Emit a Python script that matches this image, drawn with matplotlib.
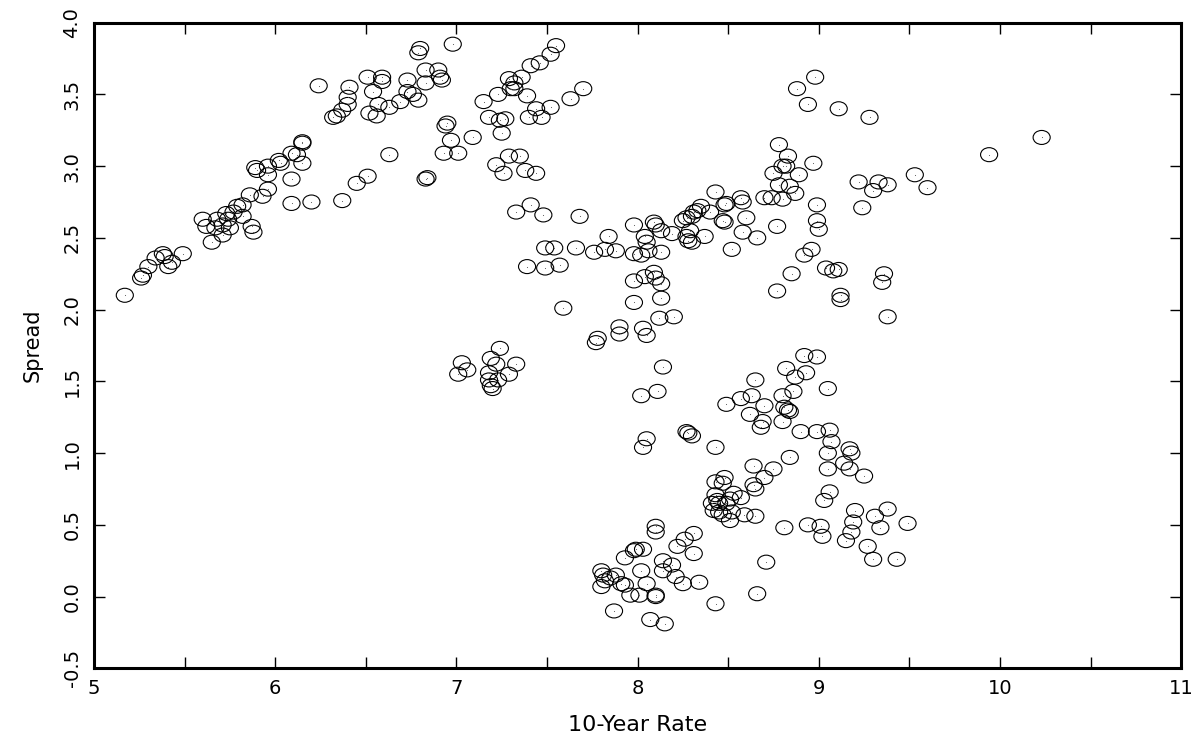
import numpy as np
import matplotlib.pyplot as plt
from matplotlib.path import Path
from matplotlib.transforms import Affine2D

# 10-year rate vs spread
rate = [
    5.17, 5.26, 5.27, 5.30, 5.34, 5.38, 5.39, 5.41, 5.43, 5.49,
    5.65, 5.62, 5.60, 5.67, 5.68, 5.71, 5.71, 5.73, 5.74, 5.75,
    5.77, 5.79, 5.82, 5.82, 5.87, 5.88, 5.86, 5.93, 5.96, 5.89,
    5.90, 5.96, 5.96, 6.02, 6.03, 6.09, 6.12, 6.15, 6.15, 6.15,
    6.09, 6.09, 6.20, 6.37, 6.45, 6.51, 6.63, 6.83, 6.84, 6.93,
    7.01, 6.94, 6.95, 6.97, 6.24, 6.32, 6.34, 6.37, 6.40, 6.40,
    6.41, 6.51, 6.52, 6.54, 6.57, 6.56, 6.59, 6.59, 6.63, 6.69,
    6.73, 6.73, 6.76, 6.79, 6.83, 6.83, 6.90, 6.91, 6.92, 6.80,
    6.79, 6.98,
    # 7 to 9, upper part
    7.55, 7.52, 7.46, 7.41, 7.36, 7.29, 7.32, 7.30, 7.32, 7.23,
    7.15, 7.39, 7.44, 7.52, 7.40, 7.47, 7.18, 7.24, 7.27, 7.25,
    7.09, 7.63, 7.70, 7.29, 7.35, 7.22, 7.26, 7.38, 7.44, 7.33,
    7.41, 7.48, 7.68, 7.49, 7.54, 7.66, 7.39, 7.49, 7.57, 7.59,
    7.76, 7.82, 7.84, 7.88, 7.98, 7.98, 8.02, 8.09, 8.10, 8.13,
    8.04, 8.05, 8.06, 8.13, 8.19, 8.25, 8.27, 8.31, 8.33, 8.35,
    8.30, 8.29, 8.27, 8.28, 8.30, 8.37, 8.40, 8.43, 8.48, 8.49,
    8.47, 8.48, 8.57, 8.58, 8.60, 8.58, 8.66, 8.52, 8.70, 8.74,
    8.80, 8.78, 8.84, 8.87, 8.75, 8.80, 8.82, 8.89, 8.83, 8.78,
    8.97, 8.77, 8.88, 8.98, 8.94, 8.99, 8.99, 9.00, 8.96, 8.92,
    8.85, 8.77, 7.98, 8.04, 8.09, 8.10, 8.13, 8.13, 7.98, 8.12,
    8.20, 7.90, 7.90, 8.03, 8.05, 7.78, 7.77,
    # lower middle
    8.14, 8.02, 8.11, 8.05, 8.03, 8.27, 8.28, 8.30, 8.43, 8.49,
    8.57, 8.63, 8.65, 8.70, 8.62, 8.69, 8.68, 8.80, 8.81, 8.80,
    8.83, 8.84, 8.86, 8.82, 8.87, 8.93, 8.92, 8.99, 8.99, 8.90,
    8.84, 8.75, 8.70, 8.64, 8.65, 8.64, 8.59, 8.65, 8.48, 8.47,
    8.43, 8.43, 8.44, 8.45, 8.49, 8.51, 8.53, 8.57, 8.41, 8.42,
    8.45, 8.47, 8.51, 8.52, 8.81, 8.94, 9.01, 8.71, 8.66, 8.43,
    8.10, 8.10, 8.31, 8.26, 8.22, 8.31, 8.03, 7.99, 7.98, 7.93,
    8.02, 8.14, 8.19, 8.14, 8.21, 8.25, 8.34, 8.05, 8.10, 8.10,
    8.01, 7.96, 7.93, 7.88, 7.91, 7.81, 7.80, 7.80, 7.82, 7.85,
    7.87, 8.07, 8.15,
    # right part
    9.05, 9.06, 9.07, 9.05, 9.17, 9.18, 9.14, 9.17, 9.05, 9.25,
    9.06, 9.03, 9.20, 9.31, 9.38, 9.49, 9.19, 9.34, 9.18, 9.02,
    9.15, 9.27, 9.30, 9.43,
    9.11, 9.28, 10.23, 9.94, 9.53, 9.60, 9.22, 9.33, 9.38, 9.30,
    9.24, 9.04, 9.08, 9.11, 9.36, 9.35, 9.12, 9.12, 9.38,
    # cluster near 7.2 / 1.5
    7.03, 7.01, 7.06, 7.24, 7.19, 7.22, 7.33, 7.29, 7.18, 7.18,
    7.19, 7.20, 7.23,
]

spread = [
    2.10, 2.22, 2.24, 2.30, 2.36, 2.39, 2.37, 2.30, 2.33, 2.39,
    2.47, 2.58, 2.63, 2.57, 2.63, 2.52, 2.59, 2.67, 2.63, 2.57,
    2.68, 2.72, 2.73, 2.65, 2.58, 2.54, 2.80, 2.79, 2.84, 2.99,
    2.97, 2.94, 3.00, 3.04, 3.02, 3.09, 3.08, 3.17, 3.16, 3.02,
    2.91, 2.74, 2.75, 2.76, 2.88, 2.93, 3.08, 2.91, 2.92, 3.09,
    3.09, 3.28, 3.30, 3.18, 3.56, 3.34, 3.35, 3.39, 3.43, 3.48,
    3.55, 3.62, 3.37, 3.52, 3.43, 3.35, 3.62, 3.59, 3.41, 3.45,
    3.60, 3.52, 3.50, 3.46, 3.67, 3.58, 3.67, 3.62, 3.60, 3.82,
    3.79, 3.85,
    3.84, 3.78, 3.72, 3.70, 3.62, 3.61, 3.58, 3.54, 3.54, 3.50,
    3.45, 3.49, 3.40, 3.41, 3.34, 3.34, 3.34, 3.32, 3.33, 3.23,
    3.20, 3.47, 3.54, 3.07, 3.07, 3.01, 2.95, 2.97, 2.95, 2.68,
    2.73, 2.66, 2.65, 2.43, 2.43, 2.43, 2.30, 2.29, 2.31, 2.01,
    2.40, 2.42, 2.51, 2.41, 2.59, 2.39, 2.38, 2.61, 2.59, 2.55,
    2.51, 2.47, 2.41, 2.40, 2.53, 2.62, 2.64, 2.68, 2.69, 2.72,
    2.65, 2.55, 2.51, 2.48, 2.47, 2.51, 2.68, 2.82, 2.73, 2.74,
    2.62, 2.61, 2.78, 2.75, 2.64, 2.54, 2.50, 2.42, 2.78, 2.78,
    2.77, 2.87, 2.86, 2.81, 2.95, 3.00, 3.00, 2.94, 3.07, 3.15,
    3.02, 2.58, 3.54, 3.62, 3.43, 2.73, 2.62, 2.56, 2.42, 2.38,
    2.25, 2.13, 2.20, 2.23, 2.26, 2.22, 2.18, 2.08, 2.05, 1.94,
    1.95, 1.88, 1.83, 1.87, 1.82, 1.80, 1.77,
    1.60, 1.40, 1.43, 1.10, 1.04, 1.15, 1.14, 1.12, 1.04, 1.34,
    1.38, 1.40, 1.51, 1.33, 1.27, 1.22, 1.18, 1.40, 1.32, 1.22,
    1.30, 1.29, 1.43, 1.59, 1.53, 1.56, 1.68, 1.67, 1.15, 1.15,
    0.97, 0.89, 0.83, 0.91, 0.75, 0.78, 0.57, 0.56, 0.83, 0.79,
    0.80, 0.71, 0.67, 0.65, 0.65, 0.68, 0.72, 0.69, 0.65, 0.60,
    0.59, 0.57, 0.53, 0.59, 0.48, 0.50, 0.49, 0.24, 0.02, -0.05,
    0.49, 0.45, 0.44, 0.40, 0.35, 0.30, 0.33, 0.33, 0.32, 0.27,
    0.18, 0.25, 0.22, 0.18, 0.14, 0.09, 0.10, 0.09, 0.01, 0.00,
    0.01, 0.01, 0.08, 0.15, 0.09, 0.15, 0.18, 0.07, 0.11, 0.13,
    -0.10, -0.16, -0.19,
    1.45, 1.16, 1.08, 1.00, 1.03, 1.00, 0.93, 0.89, 0.89, 0.84,
    0.73, 0.67, 0.60, 0.56, 0.61, 0.51, 0.52, 0.48, 0.45, 0.42,
    0.39, 0.35, 0.26, 0.26,
    3.40, 3.34, 3.20, 3.08, 2.94, 2.85, 2.89, 2.89, 2.87, 2.83,
    2.71, 2.29, 2.27, 2.28, 2.25, 2.19, 2.10, 2.07, 1.95,
    1.63, 1.55, 1.58, 1.73, 1.66, 1.62, 1.62, 1.55, 1.56, 1.51,
    1.47, 1.45, 1.51,
]

xticks = [5, 6, 7, 8, 9, 10, 11]
yticks = [-0.5, 0.0, 0.5, 1.0, 1.5, 2.0, 2.5, 3.0, 3.5, 4.0]

# open ellipse marker, a bit wider than tall
ellipse = Path.unit_circle().transformed(Affine2D().scale(1.22, 1.0))

fig = plt.figure(figsize=(11.96, 7.48), dpi=100)
ax = fig.add_axes([0.0786, 0.1065, 0.909, 0.8632])

ax.scatter(rate, spread, s=12.3**2, marker=ellipse, facecolors='none',
           edgecolors='black', linewidths=0.8)
ax.scatter(rate, spread, s=0.6, marker='o', color='#555555', linewidths=0)

ax.set_xlim(5, 11)
ax.set_ylim(-0.5, 4.0)
ax.set_xticks(xticks)
ax.set_xticks(np.arange(5.5, 11, 1.0), minor=True)
ax.set_yticks(yticks)
ax.set_yticklabels(['%.1f' % v for v in yticks], rotation=90, va='center')

for s in ax.spines.values():
    s.set_linewidth(2.2)
ax.tick_params(which='both', direction='in', length=8, width=1.0,
               top=True, right=True, labelsize=14)
ax.tick_params(axis='x', pad=8)
ax.tick_params(axis='y', pad=9)

ax.set_xlabel('10-Year Rate', fontsize=16, labelpad=12)
ax.set_ylabel('Spread', fontsize=15, labelpad=14)

fig.savefig('out.png', dpi=100)
